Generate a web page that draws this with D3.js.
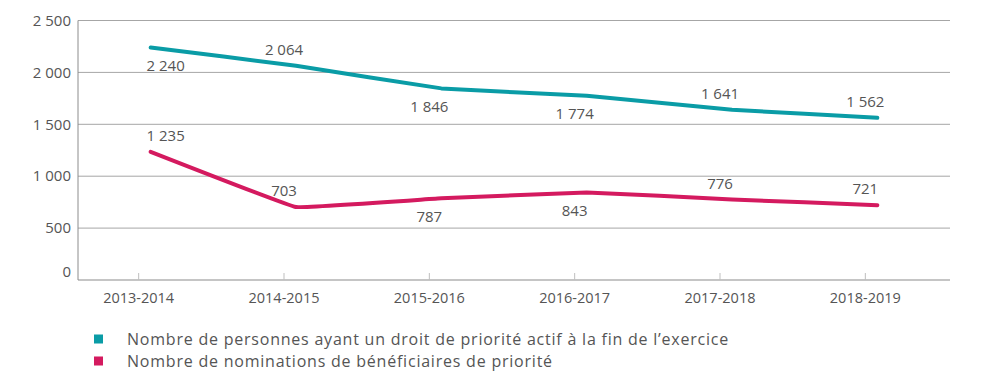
<!DOCTYPE html>
<html><head><meta charset="utf-8">
<script src="https://cdn.jsdelivr.net/npm/d3@7"></script>
<style>body{margin:0;background:#fff}svg{display:block}text{font-family:"Open Sans","Noto Sans",sans-serif}</style>
</head><body>
<svg id="c" width="992" height="380"></svg>
<script>
const categories = ["2013-2014","2014-2015","2015-2016","2016-2017","2017-2018","2018-2019"];
const seriesNames = ["Nombre de personnes ayant un droit de priorité actif à la fin de l’exercice","Nombre de nominations de bénéficiaires de priorité"];
const activeRights = [2240,2064,1846,1774,1641,1562];
const appointments = [1235,703,787,843,776,721];
const activeLabelPos = ["below","above","below","below","above","above"];
const apptLabelPos = ["above","above","below","below","above","above"];
const yTicks = [0,500,1000,1500,2000,2500];
const colors = ["#0a9ca6","#d41a5f"];

const svg = d3.select("#c");
const m = {l:78, r:950, t:20.5, b:280};
const x = d3.scaleBand().domain(categories).range([m.l, m.r]);
const y = d3.scaleLinear().domain([0,2500]).range([m.b, m.t]);
const fmtSp = v => d3.format(",")(v).replace(/,/g, " ");
const tickShift = -12;
const textCol = "#555555";

// gridlines
svg.append("g").selectAll("line").data(yTicks.filter(d=>d>0)).join("line")
  .attr("x1", m.l).attr("x2", m.r).attr("y1", d=>y(d)).attr("y2", d=>y(d))
  .attr("stroke", "#a6a6a6").attr("stroke-width", 1);
// axes lines
svg.append("line").attr("x1", m.l).attr("x2", m.l).attr("y1", m.t).attr("y2", m.b).attr("stroke","#8c8c8c");
svg.append("line").attr("x1", m.l).attr("x2", m.r).attr("y1", m.b).attr("y2", m.b).attr("stroke","#8c8c8c").attr("stroke-width",1.2);
// y labels
svg.append("g").selectAll("text").data(yTicks).join("text")
  .attr("x", 71).attr("y", d=>y(d) + (d===0 ? -8 : 0)).attr("dy","0.35em")
  .attr("text-anchor","end").attr("font-size",15).attr("fill",textCol)
  .text(d=>fmtSp(d));
// x ticks + labels
const xg = svg.append("g");
xg.selectAll("line").data(categories).join("line")
  .attr("x1", d=>x(d)+x.bandwidth()/2+tickShift).attr("x2", d=>x(d)+x.bandwidth()/2+tickShift)
  .attr("y1", m.b-7).attr("y2", m.b).attr("stroke","#bfbfbf");
xg.selectAll("text").data(categories).join("text")
  .attr("x", d=>x(d)+x.bandwidth()/2+tickShift).attr("y", 298).attr("dy","0.35em")
  .attr("text-anchor","middle").attr("font-size",14.5).attr("fill",textCol).text(d=>d);

const cx = d => x(d)+x.bandwidth()/2;
const line = d3.line().x((d,i)=>cx(categories[i])).y(d=>y(d)).curve(d3.curveCardinal.tension(0.85));
[[activeRights,activeLabelPos],[appointments,apptLabelPos]].forEach(([vals,pos],k)=>{
  svg.append("path").datum(vals).attr("d", line).attr("fill","none")
    .attr("stroke", colors[k]).attr("stroke-width", 4).attr("stroke-linecap","round").attr("stroke-linejoin","round");
  svg.append("g").selectAll("text").data(vals).join("text")
    .attr("x", (d,i)=>cx(categories[i]) + (i===0 ? 15 : tickShift))
    .attr("y", (d,i)=>y(d) + (pos[i]==="above" ? -16 : 18)).attr("dy","0.35em")
    .attr("text-anchor","middle").attr("font-size",15).attr("fill",textCol)
    .text(d=>fmtSp(d));
});

// legend
const lg = svg.append("g").selectAll("g").data(seriesNames).join("g")
  .attr("transform",(d,i)=>`translate(94,${339+i*22})`);
lg.append("rect").attr("x",0).attr("y",-4.5).attr("width",9).attr("height",9).attr("fill",(d,i)=>colors[i]);
lg.append("text").attr("x",33).attr("y",0).attr("dy","0.35em").attr("font-size",16)
  .attr("letter-spacing","0.78px").attr("fill",textCol).text(d=>d);
</script>
</body></html>
